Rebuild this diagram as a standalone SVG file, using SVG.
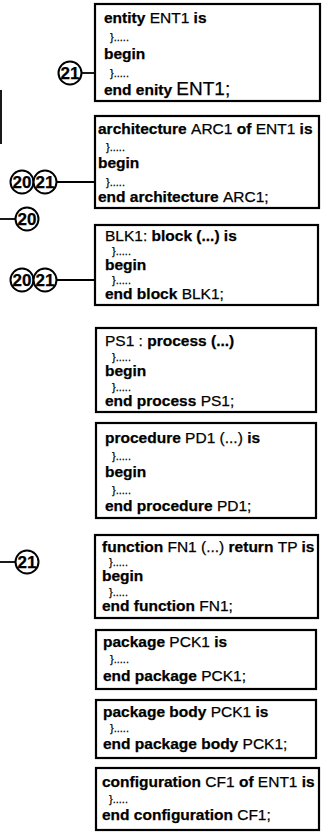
<svg xmlns="http://www.w3.org/2000/svg" width="326" height="833" viewBox="0 0 326 833">
<style>
.box{fill:#fff;stroke:#000;stroke-width:2.2}
text{font-family:"Liberation Sans",Arial,sans-serif;font-size:15.5px;fill:#000;stroke:#000;stroke-width:0.25}
.k{font-weight:bold}
.n{font-weight:normal}
.d{font-size:11px;font-weight:normal}
.c{fill:#fff;stroke:#000;stroke-width:2}
.cl{font-weight:bold;font-size:17px;text-anchor:middle}
.ln{stroke:#000;stroke-width:1.8;fill:none}
</style>
<rect width="326" height="833" fill="#fff"/>
<g id="connectors">
<line class="ln" x1="81" y1="73" x2="106" y2="73"/>
<line class="ln" x1="56" y1="182" x2="105" y2="182"/>
<line class="ln" x1="0" y1="219" x2="15" y2="219"/>
<line class="ln" x1="56" y1="280" x2="108" y2="280"/>
<line class="ln" x1="0" y1="562" x2="15" y2="562"/>
<line class="ln" x1="1" y1="90" x2="1" y2="144"/>
</g>
<g id="entity">
<rect class="box" x="95" y="4" width="225" height="97"/>
<text x="104" y="23"><tspan class="k">entity </tspan><tspan class="n">ENT1 </tspan><tspan class="k">is</tspan></text>
<text class="d" x="110" y="41">}.....</text>
<text class="k" x="104" y="59">begin</text>
<text class="d" x="110" y="77">}.....</text>
<text x="104" y="95"><tspan class="k">end enity </tspan><tspan class="n" font-size="19">ENT1;</tspan></text>
</g>
<g id="architecture">
<rect class="box" x="95" y="116" width="224" height="92"/>
<text x="98" y="134"><tspan class="k">architecture </tspan><tspan class="n">ARC1 </tspan><tspan class="k">of </tspan><tspan class="n">ENT1 </tspan><tspan class="k">is</tspan></text>
<text class="d" x="106" y="151">}.....</text>
<text class="k" x="98" y="168">begin</text>
<text class="d" x="106" y="186">}.....</text>
<text x="98" y="202"><tspan class="k">end architecture </tspan><tspan class="n">ARC1;</tspan></text>
</g>
<g id="block">
<rect class="box" x="95" y="225" width="223" height="80"/>
<text x="105" y="241"><tspan class="n">BLK1: </tspan><tspan class="k">block (...) is</tspan></text>
<text class="d" x="112" y="255">}.....</text>
<text class="k" x="105" y="270">begin</text>
<text class="d" x="112" y="284">}.....</text>
<text x="105" y="299"><tspan class="k">end block </tspan><tspan class="n">BLK1;</tspan></text>
</g>
<g id="process">
<rect class="box" x="96" y="328" width="220" height="84"/>
<text x="105" y="346"><tspan class="n">PS1 : </tspan><tspan class="k">process (...)</tspan></text>
<text class="d" x="112" y="361">}.....</text>
<text class="k" x="105" y="376">begin</text>
<text class="d" x="112" y="391">}.....</text>
<text x="105" y="406"><tspan class="k">end process </tspan><tspan class="n">PS1;</tspan></text>
</g>
<g id="procedure">
<rect class="box" x="96" y="423" width="220" height="95"/>
<text x="105" y="443"><tspan class="k">procedure </tspan><tspan class="n">PD1 (...) </tspan><tspan class="k">is</tspan></text>
<text class="d" x="112" y="460">}.....</text>
<text class="k" x="105" y="477">begin</text>
<text class="d" x="112" y="494">}.....</text>
<text x="105" y="511"><tspan class="k">end procedure </tspan><tspan class="n">PD1;</tspan></text>
</g>
<g id="function">
<rect class="box" x="95" y="535" width="223" height="83"/>
<text x="102" y="552"><tspan class="k">function </tspan><tspan class="n">FN1 (...) </tspan><tspan class="k">return </tspan><tspan class="n">TP </tspan><tspan class="k">is</tspan></text>
<text class="d" x="109" y="566">}.....</text>
<text class="k" x="102" y="581">begin</text>
<text class="d" x="109" y="596">}.....</text>
<text x="102" y="611"><tspan class="k">end function </tspan><tspan class="n">FN1;</tspan></text>
</g>
<g id="package">
<rect class="box" x="96" y="630" width="220" height="59"/>
<text x="103" y="647"><tspan class="k">package </tspan><tspan class="n">PCK1 </tspan><tspan class="k">is</tspan></text>
<text class="d" x="110" y="663">}.....</text>
<text x="103" y="681"><tspan class="k">end package </tspan><tspan class="n">PCK1;</tspan></text>
</g>
<g id="package-body">
<rect class="box" x="96" y="700" width="220" height="58"/>
<text x="103" y="717"><tspan class="k">package body </tspan><tspan class="n">PCK1 </tspan><tspan class="k">is</tspan></text>
<text class="d" x="110" y="732">}.....</text>
<text x="103" y="749"><tspan class="k">end package body </tspan><tspan class="n">PCK1;</tspan></text>
</g>
<g id="configuration">
<rect class="box" x="96" y="768" width="223" height="62"/>
<text x="102" y="787"><tspan class="k">configuration </tspan><tspan class="n">CF1 </tspan><tspan class="k">of </tspan><tspan class="n">ENT1 </tspan><tspan class="k">is</tspan></text>
<text class="d" x="109" y="803">}.....</text>
<text x="102" y="820"><tspan class="k">end configuration </tspan><tspan class="n">CF1;</tspan></text>
</g>
<g id="ref-21-entity">
<circle class="c" cx="70" cy="73" r="11.5"/>
<text class="cl" x="70" y="79">21</text>
</g>
<g id="ref-20-architecture">
<circle class="c" cx="22" cy="182" r="11.5"/>
<text class="cl" x="22" y="188">20</text>
</g>
<g id="ref-21-architecture">
<circle class="c" cx="45" cy="182" r="11.5"/>
<text class="cl" x="45" y="188">21</text>
</g>
<g id="ref-20-left">
<circle class="c" cx="27" cy="219" r="11.5"/>
<text class="cl" x="27" y="225">20</text>
</g>
<g id="ref-20-block">
<circle class="c" cx="22" cy="280" r="11.5"/>
<text class="cl" x="22" y="286">20</text>
</g>
<g id="ref-21-block">
<circle class="c" cx="45" cy="280" r="11.5"/>
<text class="cl" x="45" y="286">21</text>
</g>
<g id="ref-21-left">
<circle class="c" cx="27" cy="562" r="11.5"/>
<text class="cl" x="27" y="568">21</text>
</g>
</svg>
